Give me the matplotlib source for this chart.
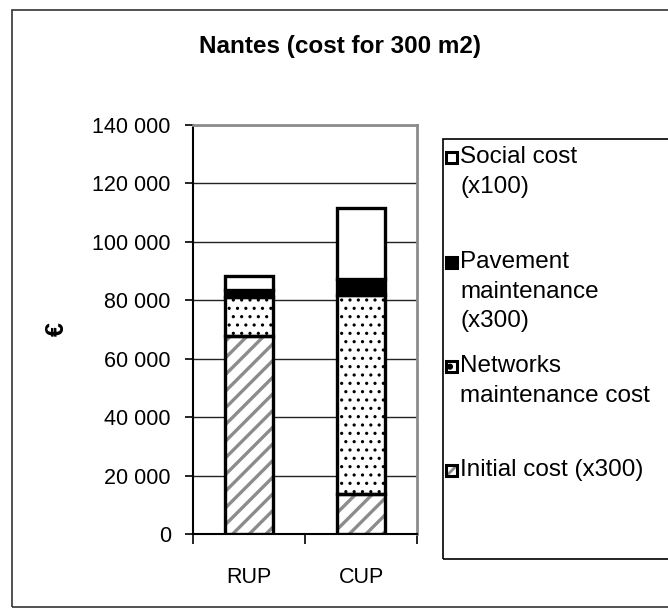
import numpy as np
import matplotlib
matplotlib.use("Agg")
import matplotlib.pyplot as plt
from matplotlib.patches import Rectangle
from matplotlib.ticker import FuncFormatter, MultipleLocator

plt.rcParams['font.family'] = ['Liberation Sans', 'DejaVu Sans']

# data (euros)
categories = ['RUP', 'CUP']
initial_cost = [67800, 13700]
networks_cost = [13400, 68200]
pavement_cost = [2400, 5500]
social_cost = [4800, 24300]

legend_labels = ['Social cost\n(x100)', 'Pavement\nmaintenance\n(x300)',
                 'Networks\nmaintenance cost', 'Initial cost (x300)']

W, H = 668, 611
fig = plt.figure(figsize=(W / 100, H / 100), dpi=100)

def fx(px):
    return px / W

def fy(py):
    return 1 - py / H

ax = fig.add_axes([fx(193), fy(534), fx(417) - fx(193), fy(125) - fy(534)])

x = np.arange(len(categories))
bw = 0.42
ini = np.array(initial_cost)
net = np.array(networks_cost)
pav = np.array(pavement_cost)
soc = np.array(social_cost)

def hatched(ax, x, h, b, hatch, col, lw):
    plt.rcParams['hatch.linewidth'] = lw
    bars = ax.bar(x, h, bw, bottom=b, color='white', edgecolor=col, hatch=hatch,
                  linewidth=0, zorder=3)
    for p in bars:
        if hasattr(p, 'set_hatch_linewidth'):
            p.set_hatch_linewidth(lw)
    ax.bar(x, h, bw, bottom=b, fill=False, edgecolor='black', linewidth=2.4, zorder=4)

hatched(ax, x, ini, 0, '//', '#8c8c8c', 2.4)
hatched(ax, x, net, ini, '..', 'black', 1.1)
ax.bar(x, pav, bw, bottom=ini + net, color='black', edgecolor='black', linewidth=2.4, zorder=4)
ax.bar(x, soc, bw, bottom=ini + net + pav, color='white', edgecolor='black', linewidth=2.4, zorder=4)

ax.set_xlim(-0.5, 1.5)
ax.set_ylim(0, 140000)
ax.yaxis.set_major_locator(MultipleLocator(20000))
ax.yaxis.set_major_formatter(FuncFormatter(lambda v, p: f"{int(v):,}".replace(',', ' ')))
ax.grid(axis='y', color='#222222', linewidth=1.0, zorder=1)
ax.set_axisbelow(True)

ax.set_xticks([-0.5, 0.5, 1.5], minor=False)
ax.set_xticklabels([])
ax.set_xticks(x, minor=True)
ax.set_xticklabels(categories, minor=True)
ax.tick_params(axis='x', which='major', direction='out', length=7, width=1.2)
ax.tick_params(axis='x', which='minor', length=0, pad=24, labelsize=15.5)
ax.tick_params(axis='y', direction='out', length=6, width=1.2, pad=10, labelsize=15.5)

for s in ['top', 'right']:
    ax.spines[s].set_color('#8c8c8c')
    ax.spines[s].set_linewidth(2)
for s in ['left', 'bottom']:
    ax.spines[s].set_color('black')
    ax.spines[s].set_linewidth(1.5)

fig.text(fx(57), fy(329), '€', ha='center', va='center', rotation=90,
         fontsize=18, fontweight='bold')

fig.text(fx(340), fy(46), 'Nantes (cost for 300 m2)', ha='center', va='center',
         fontsize=17.5, fontweight='bold')

# outer chart border
fig.patches.append(Rectangle((fx(12), fy(607)), 1.2, fy(10) - fy(607), transform=fig.transFigure,
                             fill=False, edgecolor='#333333', linewidth=1.2))

# legend box, drawn by hand so markers line up with first text line
fig.patches.append(Rectangle((fx(443), fy(559)), 1.0, fy(139) - fy(559), transform=fig.transFigure,
                             fill=False, edgecolor='black', linewidth=1.2))
tops = [158, 263, 367, 471]
styles = [dict(facecolor='white', hatch=None), dict(facecolor='black', hatch=None),
          dict(facecolor='white', hatch='.'), dict(facecolor='white', hatch='///')]
hcols = ['black', 'black', 'black', '#8c8c8c']
hlws = [1.0, 1.0, 2.0, 2.0]
for t, lab, st, hc, hl in zip(tops, legend_labels, styles, hcols, hlws):
    plt.rcParams['hatch.linewidth'] = hl
    if st['hatch']:
        hp = Rectangle((fx(446), fy(t + 5)), fx(11), fy(0) - fy(11),
                       transform=fig.transFigure, facecolor='white',
                       edgecolor=hc, hatch=st['hatch'], linewidth=0)
        fig.patches.append(hp)
    fig.patches.append(Rectangle((fx(446), fy(t + 5)), fx(11), fy(0) - fy(11),
                                 transform=fig.transFigure,
                                 facecolor=st['facecolor'] if not st['hatch'] else 'none',
                                 edgecolor='black', linewidth=2.2))
    fig.text(fx(460), fy(t - 12), lab, ha='left', va='top', fontsize=17.5, linespacing=1.45)

fig.savefig('out.png', dpi=100)
